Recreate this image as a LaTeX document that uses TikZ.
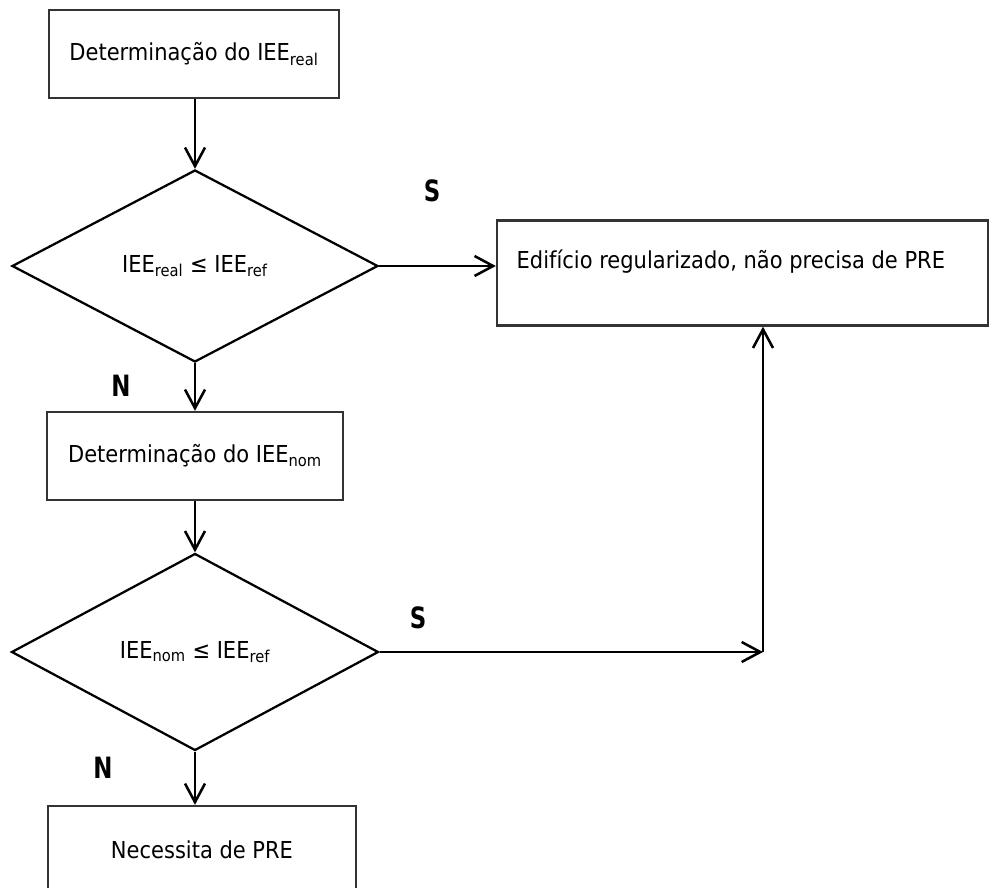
\documentclass[tikz,border=0pt]{standalone}
\usepackage{fontspec}
\setmainfont{DejaVu Sans}[FakeStretch=0.9]
\newfontfamily\answerfont{DejaVu Sans}[FakeStretch=0.78]
\usepackage{tikz}
\usetikzlibrary{arrows.meta}
\usetikzlibrary{shapes.geometric}

\tikzset{
  box/.style={draw=black!80, line width=1.7pt, rectangle, inner sep=0pt, font=\fontsize{17.5}{21}\selectfont},
  cond/.style={draw=black, line width=1.7pt, diamond, aspect=1.92, inner sep=0pt, font=\fontsize{17.5}{21}\selectfont},
  flow/.style={line width=1.9pt, -{Straight Barb[length=14pt,width=15pt]}},
  answer/.style={font=\answerfont\bfseries\fontsize{22}{26}\selectfont}
}

\begin{document}
\begin{tikzpicture}[x=0.75pt, y=-0.75pt]
          \useasboundingbox (0,0) rectangle (989,888);
          % real index
          \node[box, minimum width=290*0.75pt, minimum height=88*0.75pt] (real) at (194,54) {Determinação do IEE\textsubscript{real}};
          % first test
          \node[cond, minimum width=366*0.75pt, minimum height=192*0.75pt] (testreal) at (195,266) {IEE\textsubscript{real} ≤ IEE\textsubscript{ref}};
          % regular building
          \node[box, minimum width=491*0.75pt, minimum height=105*0.75pt] (ok) at (742.5,273) {};
          \node[anchor=west, font=\fontsize{17.5}{21}\selectfont] (oktext) at (512,262) {Edifício regularizado, não precisa de PRE};
          % nominal index
          \node[box, minimum width=296*0.75pt, minimum height=88*0.75pt] (nom) at (195,456) {Determinação do IEE\textsubscript{nom}};
          % second test
          \node[cond, minimum width=367*0.75pt, minimum height=197*0.75pt] (testnom) at (195,652) {IEE\textsubscript{nom} ≤ IEE\textsubscript{ref}};
          % needs a plan
          \node[box, minimum width=308*0.75pt, minimum height=88*0.75pt] (pre) at (202,850) {Necessita de PRE};
          \coordinate (corner) at (763,652);
          % arrows down the left column
          \draw[flow] (real.south -| testreal.north) -- (testreal.north);
          \draw[flow] (testreal.south) -- (nom.north -| testreal.south);
          \draw[flow] (nom.south -| testnom.north) -- (testnom.north);
          \draw[flow] (testnom.south) -- (pre.north -| testnom.south);
          % arrows to the right
          \draw[flow] (testreal.east) -- (ok.west |- testreal.east);
          \draw[flow] (testnom.east) -- (corner);
          \draw[flow] (corner) -- (corner |- ok.south);
          % answers
          \node[answer] (s1) at (432,191) {S};
          \node[answer] (n1) at (121,386) {N};
          \node[answer] (s2) at (418,618) {S};
          \node[answer] (n2) at (103,768) {N};
        \end{tikzpicture}
\end{document}
